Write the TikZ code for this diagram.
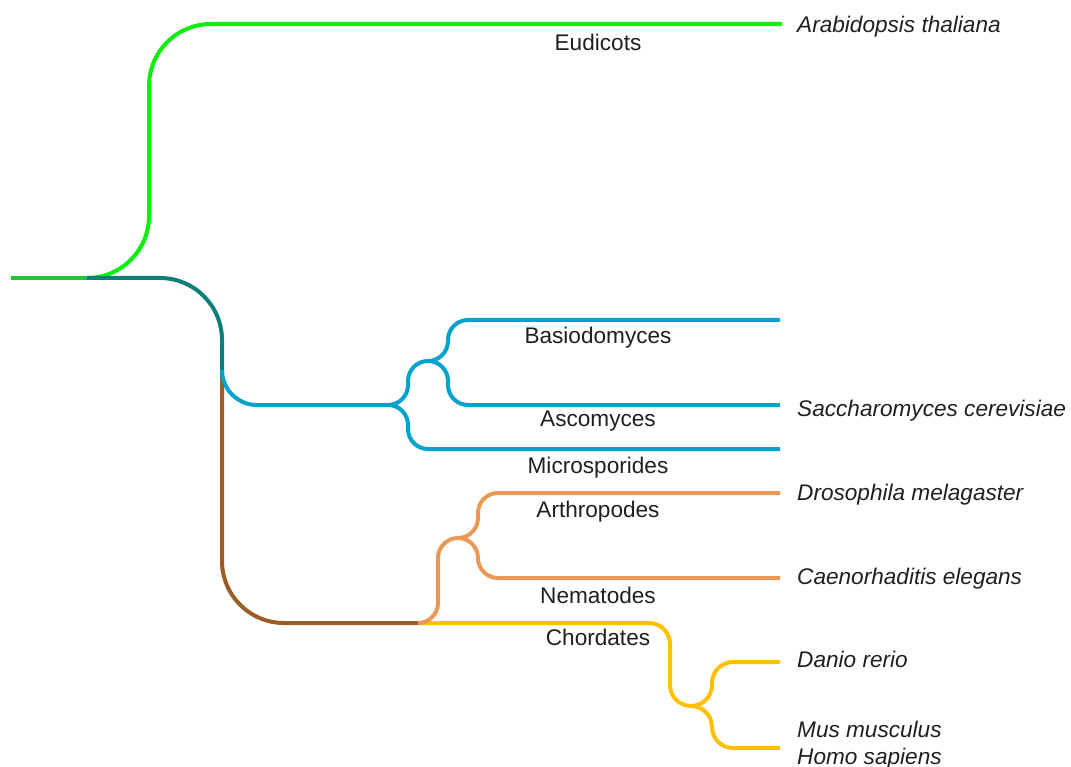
\documentclass[tikz,border=0pt]{standalone}
\usepackage{fontspec}
\setmainfont{Liberation Sans}
\definecolor{cgreen}{RGB}{10,240,10}
\definecolor{croot}{RGB}{30,200,50}
\definecolor{cteal}{RGB}{12,128,120}
\definecolor{cblue}{RGB}{0,163,204}
\definecolor{cbrown}{RGB}{155,92,38}
\definecolor{corange}{RGB}{234,152,86}
\definecolor{cyellow}{RGB}{255,192,0}
\begin{document}
\begin{tikzpicture}[x=1pt,y=-1pt,
  branch/.style={line width=4pt},
  clade/.style={anchor=base, inner sep=0pt, font=\fontsize{22.6}{27}\selectfont, text=black!88},
  species/.style={anchor=base west, inner sep=0pt, font=\fontsize{22.6}{27}\selectfont\itshape, text=black!88}]
\useasboundingbox (0,0) rectangle (1071,767);
% tree nodes and the x positions of the vertical parts
\coordinate (Root0) at (11,278);
\coordinate (R) at (87,278);
\coordinate (k1) at (149,150);
\coordinate (Ath) at (782,24);
\coordinate (N1) at (222,370);
\coordinate (F) at (388,405);
\coordinate (A) at (418,623);
\coordinate (BA) at (428,361);
\coordinate (k2) at (408,383);
\coordinate (k3) at (408,427);
\coordinate (Mi) at (780,449);
\coordinate (k4) at (448,340);
\coordinate (Bs) at (780,320);
\coordinate (k5) at (448,383);
\coordinate (As) at (780,405);
\coordinate (AN) at (458,538);
\coordinate (k6) at (438,580);
\coordinate (k7) at (478,515);
\coordinate (Dr) at (780,493);
\coordinate (k8) at (478,560);
\coordinate (Ce) at (780,578);
\coordinate (V) at (691,706);
\coordinate (k9) at (670,660);
\coordinate (k10) at (712,684);
\coordinate (Da) at (780,662);
\coordinate (k11) at (712,727);
\coordinate (Mu) at (780,748);
% branches
\draw[branch, croot] (Root0) -- (R);
\draw[branch, cgreen, rounded corners=62pt] (R) -- (R -| k1) -- (k1 |- Ath) -- (Ath);
\draw[branch, cteal, rounded corners=62pt] (R) -| (N1);
\draw[branch, cbrown, rounded corners=62pt] (N1) |- (A);
\draw[branch, cblue, rounded corners=35pt] (N1) |- (F);
\draw[branch, cblue, rounded corners=20pt] (F) -- (F -| k2) -- (k2 |- BA) -- (BA);
\draw[branch, cblue, rounded corners=20pt] (F) -- (F -| k3) -- (k3 |- Mi) -- (Mi);
\draw[branch, cblue, rounded corners=20pt] (BA) -- (BA -| k4) -- (k4 |- Bs) -- (Bs);
\draw[branch, cblue, rounded corners=20pt] (BA) -- (BA -| k5) -- (k5 |- As) -- (As);
\draw[branch, cyellow, rounded corners=21pt] (A) -- (A -| k9) -- (k9 |- V) -- (V);
\draw[branch, cyellow, rounded corners=21pt] (V) -- (V -| k10) -- (k10 |- Da) -- (Da);
\draw[branch, cyellow, rounded corners=21pt] (V) -- (V -| k11) -- (k11 |- Mu) -- (Mu);
\draw[branch, corange, rounded corners=20pt] (A) -- (A -| k6) -- (k6 |- AN) -- (AN);
\draw[branch, corange, rounded corners=20pt] (AN) -- (AN -| k7) -- (k7 |- Dr) -- (Dr);
\draw[branch, corange, rounded corners=20pt] (AN) -- (AN -| k8) -- (k8 |- Ce) -- (Ce);
% clade labels
\node[clade] (lEu) at (598,51) {Eudicots};
\node[clade] (lBa) at (598,344) {Basiodomyces};
\node[clade] (lAs) at (598,426) {Ascomyces};
\node[clade] (lMi) at (598,473) {Microsporides};
\node[clade] (lAr) at (598,517) {Arthropodes};
\node[clade] (lNe) at (598,603) {Nematodes};
\node[clade] (lCh) at (598,645) {Chordates};
% species labels
\node[species] (sAt) at (797,33) {Arabidopsis thaliana};
\node[species] (sSc) at (797,416) {Saccharomyces cerevisiae};
\node[species] (sDm) at (797,500) {Drosophila melagaster};
\node[species] (sCe) at (797,584) {Caenorhaditis elegans};
\node[species] (sDr) at (797,667) {Danio rerio};
\node[species] (sMm) at (797,737) {Mus musculus};
\node[species] (sHs) at (797,764) {Homo sapiens};
\end{tikzpicture}
\end{document}
